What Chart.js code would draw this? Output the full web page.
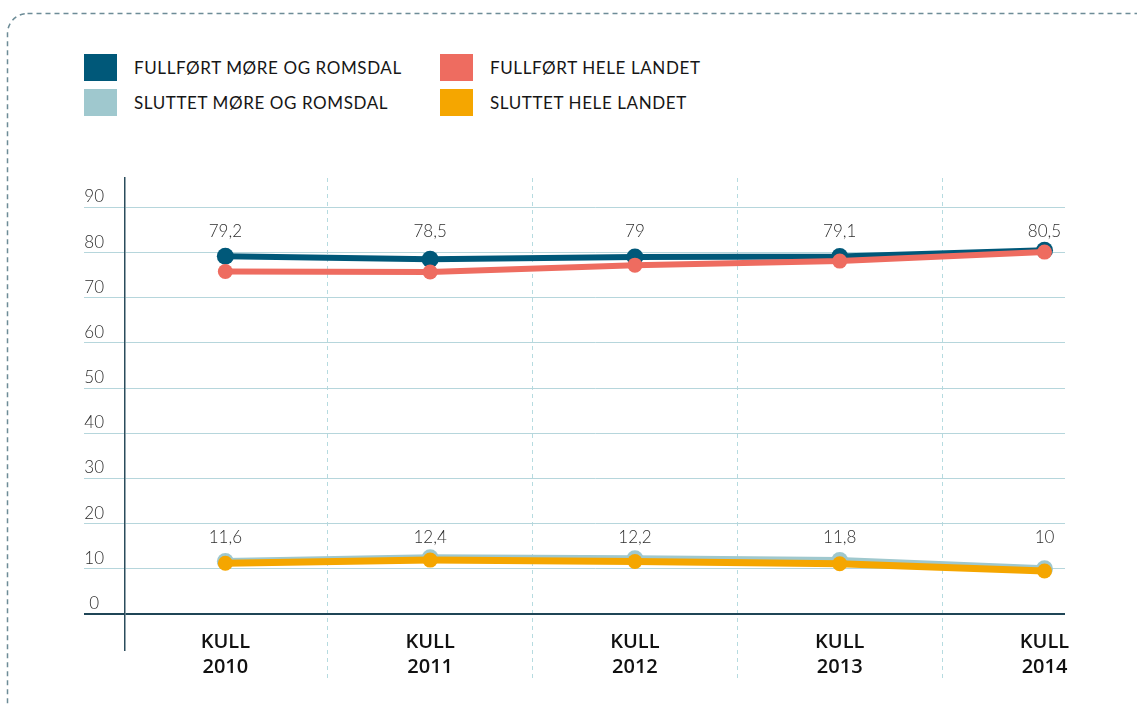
<!DOCTYPE html>
<html>
<head>
<meta charset="utf-8">
<script src="https://cdn.jsdelivr.net/npm/chart.js@4"></script>
<style>
    html, body { margin: 0; padding: 0; background: #fff; }
    #wrap { position: relative; width: 1137px; height: 707px; overflow: hidden; }
    #frame { position: absolute; left: 0; top: 0; }
    #chart { position: absolute; left: 0; top: 0; }
    .legend { position: absolute; font-family: 'Lato', sans-serif; font-size: 17px; letter-spacing: 0.6px; color: #161616; }
    .legend .item { position: absolute; white-space: nowrap; display: flex; align-items: center; }
    .legend .box { width: 33px; height: 27px; margin-right: 17px; }
</style>
</head>
<body>
<div id="wrap">
    <svg id="frame" width="1137" height="707">
        <rect x="7.5" y="13.5" width="1160" height="720" rx="20" ry="20"
              fill="none" stroke="#6d8c97" stroke-width="1.5" stroke-dasharray="5 4"/>
    </svg>
    <div class="legend" id="legend"></div>
    <canvas id="chart" width="1137" height="707"></canvas>
</div>
<script>
// --- data ---
const categories = ['KULL 2010', 'KULL 2011', 'KULL 2012', 'KULL 2013', 'KULL 2014'];
const fullfortMR = [79.2, 78.5, 79, 79.1, 80.5];
const fullfortLandet = [75.8, 75.7, 77.2, 78.1, 80.1];
const sluttetMR = [11.6, 12.4, 12.2, 11.8, 10];
const sluttetLandet = [11.2, 11.9, 11.6, 11.1, 9.5];
const yTicks = [0, 10, 20, 30, 40, 50, 60, 70, 80, 90];

const seriesNames = ['FULLFØRT MØRE OG ROMSDAL', 'SLUTTET MØRE OG ROMSDAL', 'FULLFØRT HELE LANDET', 'SLUTTET HELE LANDET'];
const seriesColors = ['#005879', '#9fc8ce', '#ee6c60', '#f5a600'];

const toPoints = arr => arr.map((v, i) => ({ x: i, y: v }));

// --- legend (2 kolonner) ---
const legendEl = document.getElementById('legend');
const legendPos = [[84, 54], [84, 89], [440, 54], [440, 89]];
seriesNames.forEach((name, i) => {
    const item = document.createElement('div');
    item.className = 'item';
    item.style.left = legendPos[i][0] + 'px';
    item.style.top = legendPos[i][1] + 'px';
    item.innerHTML = '<span class="box" style="background:' + seriesColors[i] + '"></span><span>' + name + '</span>';
    legendEl.appendChild(item);
});

// verdier over Møre og Romsdal-linjene
const valueLabels = {
    id: 'valueLabels',
    afterDatasetsDraw(chart) {
        const ctx = chart.ctx;
        const yScale = chart.scales.y;
        ctx.save();
        ctx.font = '300 17px Lato';
        ctx.fillStyle = '#2e2e2e';
        ctx.textAlign = 'center';
        ctx.textBaseline = 'middle';
        chart.data.datasets.forEach((ds, i) => {
            if (!ds.showValues) return;
            const vals = ds.data.map(p => p.y);
            const mean = vals.reduce((a, b) => a + b, 0) / vals.length;
            const y = yScale.getPixelForValue(mean) - 24;
            chart.getDatasetMeta(i).data.forEach((pt, j) => {
                ctx.fillText(String(vals[j]).replace('.', ','), pt.x, y);
            });
        });
        ctx.restore();
    }
};

const gridLight = '#b6d6dc';
const axisDark = '#1f4556';

new Chart(document.getElementById('chart').getContext('2d'), {
    type: 'line',
    data: {
        datasets: [
            {
                label: seriesNames[0], data: toPoints(fullfortMR), showValues: true,
                borderColor: seriesColors[0], backgroundColor: seriesColors[0],
                borderWidth: 6, pointRadius: 8.5, pointBorderWidth: 0, order: 2
            },
            {
                label: seriesNames[1], data: toPoints(sluttetMR), showValues: true,
                borderColor: seriesColors[1], backgroundColor: seriesColors[1],
                borderWidth: 7, pointRadius: 8.5, pointBorderWidth: 0, order: 2
            },
            {
                label: seriesNames[2], data: toPoints(fullfortLandet),
                borderColor: seriesColors[2], backgroundColor: seriesColors[2],
                borderWidth: 6, pointRadius: 7.5, pointBorderWidth: 0, order: 1
            },
            {
                label: seriesNames[3], data: toPoints(sluttetLandet),
                borderColor: seriesColors[3], backgroundColor: seriesColors[3],
                borderWidth: 7, pointRadius: 7.5, pointBorderWidth: 0, order: 1
            }
        ]
    },
    options: {
        responsive: false,
        animation: false,
        devicePixelRatio: 1,
        layout: { padding: { left: 84, right: 72, top: 178, bottom: 7 } },
        plugins: {
            legend: { display: false },
            tooltip: { enabled: false }
        },
        scales: {
            x: {
                type: 'linear',
                min: -0.49,
                max: 4.1,
                afterBuildTicks: scale => { scale.ticks = categories.map((c, i) => ({ value: i })); },
                afterFit: scale => { scale.height = 50; },
                border: { display: false, dash: [4, 4] },
                grid: {
                    offset: true,
                    color: '#b6dbe0',
                    lineWidth: 1,
                    tickBorderDash: [4, 4],
                    tickLength: 30
                },
                ticks: {
                    mirror: true,
                    padding: -5,
                    maxRotation: 0,
                    color: '#111',
                    font: { family: 'Open Sans', size: 20, weight: 600, lineHeight: 1.25 },
                    callback: v => categories[v] ? categories[v].split(' ') : ''
                }
            },
            y: {
                min: -8,
                max: 96.5,
                afterBuildTicks: scale => { scale.ticks = yTicks.map(v => ({ value: v })); },
                afterFit: scale => { scale.width = 41; },
                border: { display: true, color: '#2b4c5c', width: 1.5 },
                grid: {
                    tickLength: 41,
                    color: ctx => (ctx.tick && ctx.tick.value === 0) ? axisDark : gridLight,
                    lineWidth: ctx => (ctx.tick && ctx.tick.value === 0) ? 2 : 1
                },
                ticks: {
                    padding: -20,
                    crossAlign: 'center',
                    labelOffset: -10.5,
                    color: '#2e2e2e',
                    font: { family: 'Lato', size: 17, weight: 300 }
                }
            }
        }
    },
    plugins: [valueLabels]
});
</script>
</body>
</html>
